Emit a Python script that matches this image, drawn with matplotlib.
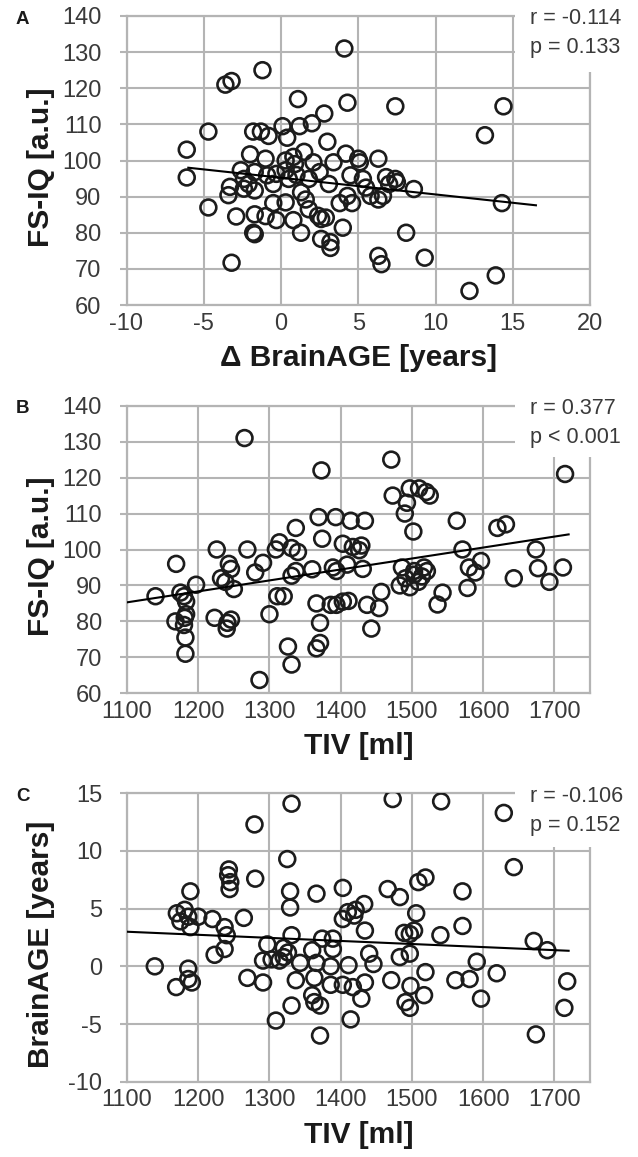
import matplotlib
matplotlib.use("Agg")
import matplotlib.pyplot as plt
from matplotlib.patches import Rectangle

plt.rcParams['font.family'] = ['Liberation Sans', 'DejaVu Sans']
plt.rcParams['axes.unicode_minus'] = False

# ---------------- data ----------------
# Panel A: delta BrainAGE vs FS-IQ
brainage_a = [4.1, -1.2, -3.6, -3.2, 1.1, 4.3, 7.4, 14.4, 2.8, -4.7, -1.8, -1.3, 0.1, 1.2, 2.0,
              -0.8, 0.4, 13.2, -6.1, 3.0, -2.0, -1.0, 0.3, 0.8, 1.5, 2.1, 3.4, 4.2, 5.0, 5.1,
              6.3, -6.1, -2.6, -2.4, -1.7, -0.9, -0.3, 0.3, 0.5, 1.8, 3.1, 4.5, 5.3, 6.8, 7.4,
              7.5, 8.6, -3.3, -3.4, -2.4, -1.7, 1.3, 1.6, 3.8, 4.3, 4.6, 5.8, 6.3, 6.6, 14.3,
              -4.7, -2.9, -1.7, -1.0, -0.5, 0.3, -0.3, 0.8, 1.8, 2.4, 2.6, 2.9, 4.0, -1.8, -1.7,
              1.3, 2.6, 3.2, 3.2, 8.1, 6.3, 6.5, 9.3, -3.2, 13.9, 12.2,
              -0.5, 1.0, -2.1, 2.5, 0.9, 5.5, 7.0]
iq_a = [131, 125, 121, 122, 117, 116, 115, 115, 113, 108, 108, 108, 109.5, 109.5, 110.3,
        106.8, 106.3, 107, 103, 105.2, 101.7, 100.5, 100, 101, 102.4, 99.5, 99.5, 101.9, 100.5, 99.5,
        100.5, 95.3, 97.3, 94.9, 96.8, 95.9, 96.3, 97.3, 94.9, 94.9, 93.5, 95.9, 94.9, 95.4, 94.9,
        94, 92.1, 92.7, 90.4, 92.2, 91.7, 91.2, 89.2, 88.2, 90.2, 88.2, 90.2, 89.2, 90.2, 88.2,
        87, 84.5, 85.1, 84.6, 88.2, 88.4, 83.5, 83.5, 86.5, 84.7, 83.8, 84.2, 81.4, 80, 79.6,
        80, 78.3, 77.4, 75.8, 80, 73.6, 71.3, 73.1, 71.7, 68.2, 63.9,
        93.5, 96, 93.5, 96.8, 99, 92.5, 93.5]
trend_a_x = [-6.0, 16.5]
trend_a_y = [98.0, 87.6]

# Panel B: TIV vs FS-IQ
tiv_b = [1265, 1471, 1373, 1715, 1473, 1497, 1510, 1520, 1525, 1493, 1490, 1369, 1393, 1414, 1434,
         1563, 1337, 1620, 1632, 1502, 1374, 1226, 1269, 1314, 1309, 1331, 1340, 1403, 1417, 1426,
         1429, 1571, 1674, 1169, 1243, 1246, 1280, 1291, 1360, 1389, 1394, 1409, 1431, 1486, 1503,
         1517, 1521, 1580, 1589, 1597, 1677, 1712, 1643, 1693, 1140, 1175, 1180, 1183, 1183, 1181,
         1180, 1182, 1182, 1168, 1197, 1223, 1241, 1246, 1240, 1232, 1238, 1250, 1300, 1311, 1320,
         1326, 1331, 1286, 1331, 1337, 1366, 1371, 1366, 1371, 1386, 1394, 1403, 1411, 1437, 1454,
         1443, 1457, 1483, 1491, 1497, 1503, 1509, 1514, 1536, 1543, 1578]
iq_b = [131, 125, 122, 121, 115, 117, 117, 116, 115, 113, 110, 109, 109, 108, 108,
        108, 106, 106, 107, 105, 103, 100, 100, 102, 100, 100.4, 99.3, 101.6, 100.7, 99.8,
        101.1, 100, 100, 96, 96, 94.6, 93.6, 96.3, 94.5, 95, 94, 95.8, 94.6, 95, 94,
        95, 94, 95, 93.6, 96.8, 94.8, 95, 92, 91, 87, 88, 87, 85.5, 82, 81,
        79, 75.5, 71, 80, 90.2, 81, 79.6, 80.5, 78, 92, 91, 89, 82, 87, 87,
        73, 68, 63.7, 92.7, 94, 85, 79.6, 72.5, 74, 84.6, 84.6, 85.5, 85.7, 84.6, 83.7,
        78, 88.2, 90, 92, 89.5, 93, 91, 92.5, 84.7, 88, 89.3]
trend_b_x = [1100, 1720]
trend_b_y = [85.3, 104.2]

# Panel C: TIV vs BrainAGE
tiv_c = [1473, 1541, 1331, 1629, 1279, 1325, 1643, 1243, 1242, 1245, 1244, 1280, 1509, 1519, 1403,
         1466, 1329, 1189, 1366, 1571, 1483, 1329, 1170, 1181, 1175, 1186, 1189, 1200, 1220, 1264,
         1410, 1421, 1433, 1419, 1403, 1506, 1571, 1237, 1240, 1237, 1434, 1489, 1497, 1503, 1540,
         1331, 1374, 1389, 1671, 1690, 1223, 1297, 1320, 1326, 1291, 1303, 1314, 1320, 1360, 1366,
         1389, 1386, 1343, 1411, 1440, 1446, 1483, 1497, 1591, 1139, 1186, 1186, 1191, 1169, 1269,
         1291, 1337, 1363, 1386, 1403, 1417, 1434, 1471, 1498, 1519, 1517, 1561, 1581, 1619, 1597,
         1718, 1360, 1363, 1371, 1331, 1429, 1491, 1497, 1714, 1309, 1414, 1371, 1674]
ba_c = [14.5, 14.3, 14.1, 13.3, 12.3, 9.3, 8.6, 8.4, 7.9, 7.3, 6.7, 7.6, 7.3, 7.7, 6.8,
        6.7, 6.5, 6.5, 6.3, 6.5, 6.0, 5.1, 4.6, 4.9, 3.9, 4.3, 3.4, 4.3, 4.1, 4.2,
        4.7, 4.9, 5.4, 4.4, 4.1, 4.6, 3.5, 3.4, 2.7, 1.5, 3.1, 2.9, 2.8, 3.1, 2.7,
        2.7, 2.4, 2.4, 2.2, 1.4, 1.0, 1.9, 1.6, 1.2, 0.5, 0.6, 0.5, 0.8, 1.4, 0.3,
        1.5, 0.0, 0.3, 0.1, 1.1, 0.2, 0.8, 1.1, 0.4, 0.0, -0.2, -1.1, -1.4, -1.8, -1.0,
        -1.4, -1.2, -1.0, -1.6, -1.6, -1.8, -1.4, -1.2, -1.7, -0.5, -2.5, -1.2, -1.1, -0.6, -2.8,
        -1.3, -2.5, -3.1, -3.4, -3.4, -2.8, -3.1, -3.6, -3.6, -4.7, -4.6, -6.0, -5.9]
trend_c_x = [1100, 1720]
trend_c_y = [3.0, 1.35]

panel_letters = ["A", "B", "C"]
stats = [("r = -0.114", "p = 0.133"), ("r = 0.377", "p < 0.001"), ("r = -0.106", "p = 0.152")]
xlabels = ["\u0394 BrainAGE [years]", "TIV [ml]", "TIV [ml]"]
ylabels = ["FS-IQ [a.u.]", "FS-IQ [a.u.]", "BrainAGE [years]"]
xticks_a = [-10, -5, 0, 5, 10, 15, 20]
xticks_tiv = [1100, 1200, 1300, 1400, 1500, 1600, 1700]
yticks_iq = [60, 70, 80, 90, 100, 110, 120, 130, 140]
yticks_ba = [-10, -5, 0, 5, 10, 15]

# ---------------- figure ----------------
W, H = 638, 1157
fig = plt.figure(figsize=(W / 100, H / 100), dpi=100)

def add_axes_px(left, top, right, bottom):
    return fig.add_axes([left / W, 1 - bottom / H, (right - left) / W, (bottom - top) / H])

boxes = [(126.5, 16, 590, 305), (127, 405.7, 590, 693.3), (127, 793.3, 590, 1081.7)]
box_bottom_px = [72, 457, 847]

panels = [
    (brainage_a, iq_a, trend_a_x, trend_a_y, (-10, 20), (60, 140), xticks_a, yticks_iq),
    (tiv_b, iq_b, trend_b_x, trend_b_y, (1100, 1750), (60, 140), xticks_tiv, yticks_iq),
    (tiv_c, ba_c, trend_c_x, trend_c_y, (1100, 1750), (-10, 15), xticks_tiv, yticks_ba),
]

grid_col = '#b4b4b4'
txt_col = '#3a3a3a'

for i, (xs, ys, tx, ty, xl, yl, xt, yt) in enumerate(panels):
    l, t, r, b = boxes[i]
    ax = add_axes_px(l, t, r, b)
    ax.set_xlim(*xl)
    ax.set_ylim(*yl)
    ax.set_xticks(xt)
    ax.set_yticks(yt)
    ax.set_axisbelow(True)
    ax.grid(True, color=grid_col, lw=1.5)
    for s in ['left', 'bottom', 'right', 'top']:
        ax.spines[s].set_color(grid_col)
        ax.spines[s].set_linewidth(1.6)
    ax.tick_params(axis='y', length=5, width=1.5, color=grid_col, labelsize=17,
                   labelcolor=txt_col, pad=13)
    ax.tick_params(axis='x', length=0, labelsize=17, labelcolor=txt_col, pad=5.5)

    ax.scatter(xs, ys, s=130, facecolors='none', edgecolors='#1c1c1c', linewidths=1.9, zorder=4)
    ax.plot(tx, ty, color='black', lw=1.5, zorder=5)

    # white box for statistics
    bx0 = (515 - l) / (r - l)
    by0 = (b - box_bottom_px[i]) / (b - t)
    ax.add_patch(Rectangle((bx0, by0), 1.2 - bx0, 1.1 - by0, transform=ax.transAxes,
                           facecolor='white', edgecolor='none', zorder=3, clip_on=False))
    tx0 = (530 - l) / (r - l)
    ax.text(tx0, 1 - 3 / (b - t), stats[i][0], transform=ax.transAxes, fontsize=15.5,
            color=txt_col, ha='left', va='center', zorder=6)
    ax.text(tx0, 1 - 32 / (b - t), stats[i][1], transform=ax.transAxes, fontsize=15.5,
            color=txt_col, ha='left', va='center', zorder=6)

    ax.set_xlabel(xlabels[i], fontsize=21.5, fontweight='bold', color='#1a1a1a')
    ax.xaxis.set_label_coords(0.5, -39 / (b - t))
    ax.set_ylabel(ylabels[i], fontsize=21.5, fontweight='bold', color='#1a1a1a')
    ax.yaxis.set_label_coords((55 - l) / (r - l), 0.476)

    fig.text(16 / W, 1 - (t + 3) / H, panel_letters[i], fontsize=13.5, fontweight='bold',
             color='#1a1a1a', ha='left', va='center')

fig.savefig('out.png', dpi=100)
